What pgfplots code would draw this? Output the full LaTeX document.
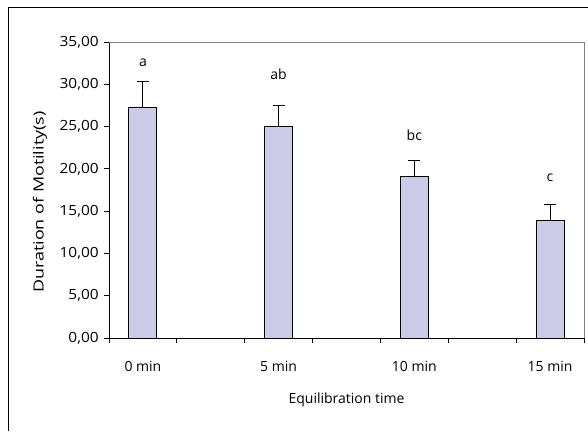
\documentclass[border=0pt]{standalone}
\usepackage{pgfplots}
\pgfplotsset{compat=1.18}
\usepackage{fontspec}
\setmainfont{Open Sans}
\definecolor{barfill}{RGB}{204,204,232}
\definecolor{frame}{RGB}{128,128,128}
\begin{document}
\fontsize{14}{16}\selectfont
\begin{tikzpicture}
\useasboundingbox (0,0) rectangle (588pt,431pt);
\draw[black, line width=1pt] (8pt,0pt) -- (8pt,423pt) -- (588pt,423pt);
\begin{axis}[
  at={(109pt,93pt)}, anchor=south west,
  width=475pt, height=296pt, scale only axis,
  xmin=-0.5, xmax=6.5, ymin=0, ymax=35,
  axis x line*=bottom, axis y line*=left,
  axis line style={black, line width=1pt},
  ytick={0,5,...,35},
  xtick={0,2,4,6}, xticklabels={0 min,5 min,10 min,15 min},
  minor xtick={-0.5,0.5,...,6.5},
  major x tick style={draw=none},
  tick align=outside,
  tick style={black, line width=0.8pt},
  major tick length=5pt, minor tick length=5pt,
  /pgf/number format/assume math mode=true,
  ticklabel style={font=\fontsize{14}{16}\selectfont},
  x tick label style={anchor=center, yshift=-23pt},
  y tick label style={xscale=1.1, /pgf/number format/.cd, fixed, fixed zerofill, precision=2, use comma},
  xlabel={Equilibration time},
  ylabel={\scalebox{1.28}[1]{Duration of Motility(s)}},
  xlabel style={at={(axis description cs:0.5,-0.2095)}, anchor=center},
  ylabel style={at={(axis description cs:-0.1453,0.459)}, anchor=center},
  clip=false,
]
\draw[frame, line width=1pt] (rel axis cs:0,1) -- (rel axis cs:1,1) -- (rel axis cs:1,0);
\addplot[ybar, bar width=28pt, fill=barfill, draw=black, line width=1pt,
  error bars/.cd, y dir=plus, y explicit,
  error bar style={line width=1pt, black},
  error mark options={rotate=90, mark size=6pt, line width=1pt, black}]
  table[x=x, y=y, y error=e] {
x y e
0 27.3 3.0
2 25.0 2.5
4 19.05 1.95
6 13.95 1.8
};
\addplot[draw=none, mark=none, nodes near coords, point meta=explicit symbolic,
  nodes near coords style={anchor=center, font=\fontsize{14}{16}\selectfont}]
  table[x=x, y=y, meta=lab] {
x y lab
0 32.6 a
2 31.2 ab
4 24.0 bc
6 18.9 c
};
\end{axis}
\end{tikzpicture}
\end{document}
